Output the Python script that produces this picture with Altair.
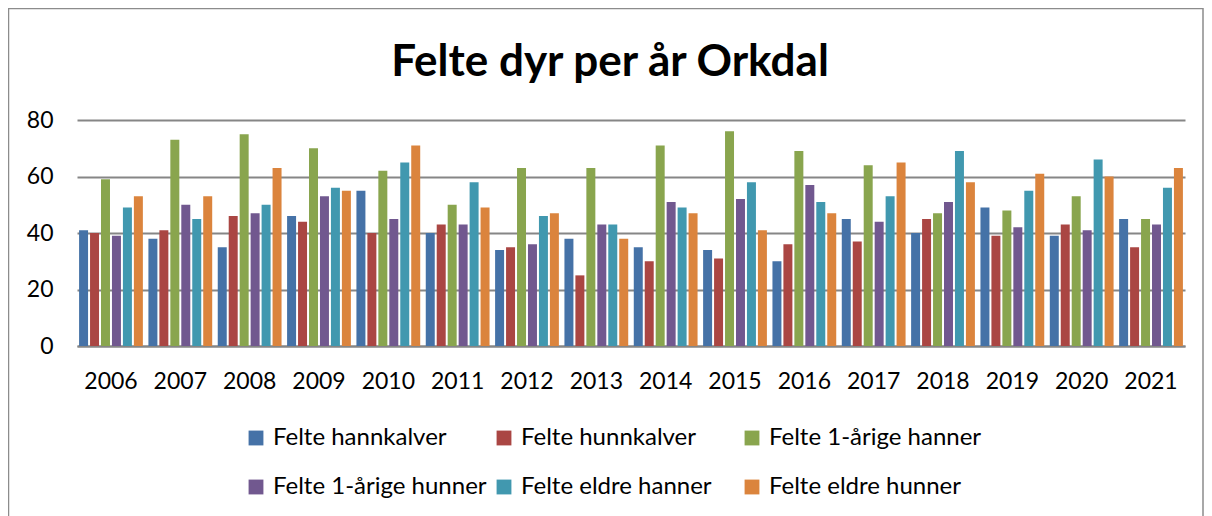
import altair as alt
import pandas as pd

years = [str(y) for y in range(2006, 2022)]
series = ["Felte hannkalver", "Felte hunnkalver", "Felte 1-årige hanner",
          "Felte 1-årige hunner", "Felte eldre hanner", "Felte eldre hunner"]
colors = ["#4572A7", "#AA4643", "#89A54E", "#71588F", "#4198AF", "#DB843D"]
title_text = "Felte dyr per år Orkdal"

hannkalver = [41, 38, 35, 46, 55, 40, 34, 38, 35, 34, 30, 45, 40, 49, 39, 45]
hunnkalver = [40, 41, 46, 44, 40, 43, 35, 25, 30, 31, 36, 37, 45, 39, 43, 35]
hanner_1 = [59, 73, 75, 70, 62, 50, 63, 63, 71, 76, 69, 64, 47, 48, 53, 45]
hunner_1 = [39, 50, 47, 53, 45, 43, 36, 43, 51, 52, 57, 44, 51, 42, 41, 43]
eldre_hanner = [49, 45, 50, 56, 65, 58, 46, 43, 49, 58, 51, 53, 69, 55, 66, 56]
eldre_hunner = [53, 53, 63, 55, 71, 49, 47, 38, 47, 41, 47, 65, 58, 61, 60, 63]

values = [hannkalver, hunnkalver, hanner_1, hunner_1, eldre_hanner, eldre_hunner]
rows = []
for s, vals in zip(series, values):
    for y, v in zip(years, vals):
        rows.append({"year": y, "series": s, "value": v})
df = pd.DataFrame(rows)

FONT = "Lato"
W, H = 1108, 226

bars = alt.Chart(df).mark_bar().encode(
    x=alt.X("year:N", sort=years,
            scale=alt.Scale(paddingInner=0.08, paddingOuter=0.03),
            axis=alt.Axis(title=None, labelAngle=0, labelFontSize=23, labelColor="black",
                          labelFont=FONT, ticks=False, domain=True, domainColor="#868686",
                          domainWidth=2, labelPadding=24)),
    xOffset=alt.XOffset("series:N", sort=series, scale=alt.Scale(paddingInner=0.18)),
    y=alt.Y("value:Q", scale=alt.Scale(domain=[0, 80]),
            axis=alt.Axis(title=None, values=[0, 20, 40, 60, 80], grid=True,
                          gridColor="#868686", gridWidth=2, domain=False, ticks=False,
                          labelFontSize=23, labelColor="black", labelFont=FONT,
                          labelPadding=24)),
    color=alt.Color("series:N", sort=series,
                    scale=alt.Scale(domain=series, range=colors),
                    legend=alt.Legend(title=None, orient="none", legendX=167, legendY=306,
                                      direction="horizontal",
                                      columns=3, symbolType="square", symbolSize=220,
                                      symbolStrokeWidth=0, labelFontSize=24, labelFont=FONT,
                                      labelColor="black", labelOffset=5, columnPadding=5,
                                      rowPadding=25, gridAlign="all", labelLimit=400)),
)

frame = alt.Chart(pd.DataFrame({"a": [0]})).mark_rect(
    fill=None, stroke="#8c8c8c", strokeWidth=1.5
).encode(x=alt.value(-68.5), x2=alt.value(1126), y=alt.value(-111.5), y2=alt.value(400))

title = alt.Chart(pd.DataFrame({"t": [title_text]})).mark_text(
    font=FONT, fontSize=44, fontWeight="bold", color="black",
    align="center", baseline="alphabetic"
).encode(text="t:N", x=alt.value(533), y=alt.value(-44))

chart = alt.layer(frame, title, bars).properties(
    width=W, height=H,
    autosize=alt.AutoSizeParams(type="none"),
    padding={"left": 69, "top": 112, "right": 19, "bottom": 170},
).configure_view(stroke=None)

chart.save("out.html", embed_options={"renderer": "svg", "actions": False})
